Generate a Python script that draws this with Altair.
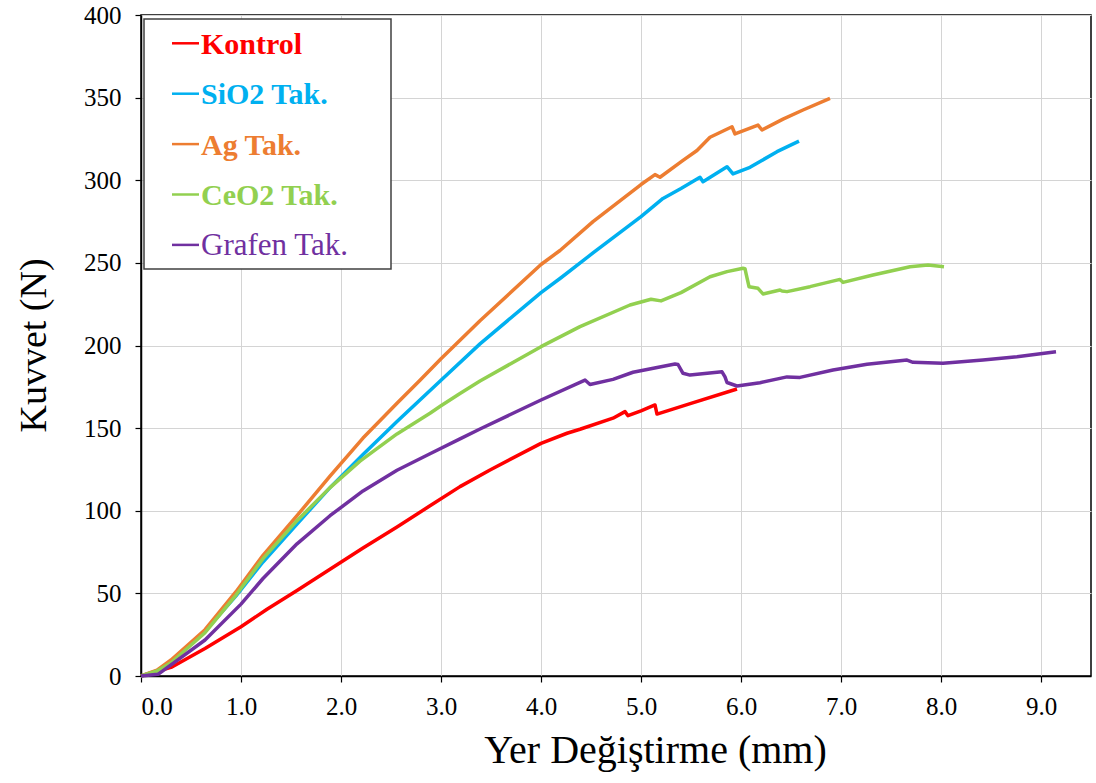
import altair as alt
import pandas as pd

# ---- data ----
series_names = ["Kontrol", "SiO2 Tak.", "Ag Tak.", "CeO2 Tak.", "Grafen Tak."]
series_colors = ["#FF0000", "#00B0F0", "#ED7D31", "#92D050", "#7030A0"]
series_bold = [True, True, True, True, False]

kontrol_x = [0, 0.07, 0.3, 0.64, 1.0, 1.26, 1.56, 1.89, 2.22, 2.56, 2.89, 3.19, 3.49, 4.0,
             4.26, 4.39, 4.72, 4.84, 4.87, 5.0, 5.14, 5.16, 5.5, 5.96]
kontrol_y = [0, 1.2, 5.2, 16.7, 29.8, 40.4, 51.8, 64.6, 77.5, 90.2, 103, 114.6, 124.7, 140.8,
             146.9, 149.3, 156, 160, 157.5, 160.5, 164, 158.5, 165, 173.7]

sio2_x = [0, 0.16, 0.3, 0.64, 0.95, 1.22, 1.56, 1.89, 2.22, 2.56, 3.0, 3.39, 4.0, 4.2,
          4.52, 5.0, 5.22, 5.4, 5.59, 5.62, 5.86, 5.92, 6.09, 6.36, 6.58]
sio2_y = [0, 3, 9, 27, 48.5, 69, 92, 114, 134, 154, 179, 201, 232, 241,
          256, 278, 289, 295, 301.8, 299.1, 308.2, 303.8, 307.8, 317.3, 323.7]

ag_x = [0, 0.16, 0.3, 0.64, 0.95, 1.22, 1.56, 1.89, 2.22, 2.56, 2.79, 3.0, 3.39, 4.0,
        4.19, 4.52, 5.0, 5.14, 5.19, 5.42, 5.56, 5.69, 5.91, 5.94, 6.17, 6.21, 6.42, 6.62, 6.89]
ag_y = [0, 3.5, 9.7, 28, 51, 73, 97, 121, 144, 165, 179, 192, 215, 249,
        257.5, 275, 297.4, 303.4, 301.8, 312, 318, 326, 332.4, 328, 333.4, 330.4, 337, 342.5, 349.6]

ceo2_x = [0, 0.16, 0.3, 0.64, 0.95, 1.22, 1.56, 1.89, 2.19, 2.39, 2.56, 2.89, 3.0, 3.19, 3.39,
          4.0, 4.39, 4.89, 5.1, 5.2, 5.4, 5.69, 5.86, 6.02, 6.04, 6.05, 6.08, 6.17, 6.22, 6.39,
          6.41, 6.46, 6.69, 6.99, 7.02, 7.32, 7.69, 7.87, 8.03]
ceo2_y = [0, 3, 8, 26.2, 49, 71, 94, 114, 130, 139, 146.5, 159, 163.5, 171, 178.5,
          199.3, 211.4, 224.5, 228, 227, 232, 241.6, 244.7, 246.7, 246.5, 243.7, 235.6, 234.6,
          231.2, 233.6, 233, 232.6, 235.6, 240, 238.2, 242.7, 247.7, 248.7, 247.7]

grafen_x = [0, 0.17, 0.3, 0.64, 1.0, 1.22, 1.56, 1.89, 2.22, 2.56, 2.89, 3.19, 3.39, 4.0,
            4.44, 4.49, 4.72, 4.92, 5.34, 5.37, 5.42, 5.49, 5.81, 5.84, 5.86, 5.96, 6.19, 6.46,
            6.59, 6.92, 7.26, 7.66, 7.72, 8.02, 8.42, 8.76, 9.15]
grafen_y = [0, 1, 6.7, 21.8, 43.5, 59, 80, 97, 112, 124.5, 134.5, 143.5, 149.5, 167,
            179.1, 176.4, 179.5, 183.8, 188.8, 188.5, 183.2, 182.1, 184.1, 181, 177.6, 175.5,
            177.5, 181, 180.7, 185.2, 188.6, 191.2, 189.8, 189.2, 191.2, 193.2, 196.2]

x_ticks = [0, 1, 2, 3, 4, 5, 6, 7, 8, 9]
y_ticks = [0, 50, 100, 150, 200, 250, 300, 350, 400]

# ---- build tables ----
all_x = [kontrol_x, sio2_x, ag_x, ceo2_x, grafen_x]
all_y = [kontrol_y, sio2_y, ag_y, ceo2_y, grafen_y]
rows = []
for name, xs, ys in zip(series_names, all_x, all_y):
    for i, (xv, yv) in enumerate(zip(xs, ys)):
        rows.append({"series": name, "x": xv, "y": yv, "i": i})
df = pd.DataFrame(rows)

leg = pd.DataFrame({
    "name": series_names,
    "color": series_colors,
    "bold": series_bold,
    "ly": [28.3 + 50.4 * k for k in range(len(series_names))],
})
leg["ty"] = leg["ly"] + 10.5

FONT = "Liberation Serif"

lines = alt.Chart(df).mark_line(strokeWidth=3.5, strokeJoin="round").encode(
    x=alt.X("x:Q", scale=alt.Scale(domain=[0, 9.5], nice=False),
            axis=alt.Axis(values=x_ticks, format=".1f", title="Yer Değiştirme (mm)",
                          titleX=514, titleY=86, titleBaseline="alphabetic",
                          titleFontSize=40, labelPadding=12)),
    y=alt.Y("y:Q", scale=alt.Scale(domain=[0, 400], nice=False),
            axis=alt.Axis(values=y_ticks, title="Kuvvet (N)", titleAngle=270,
                          titleX=-96, titleY=330, titleBaseline="alphabetic",
                          titleFontSize=38, labelPadding=14)),
    color=alt.Color("series:N", scale=alt.Scale(domain=series_names, range=series_colors),
                    legend=None),
    detail="series:N",
    order=alt.Order("i:Q"),
)

box = alt.Chart(pd.DataFrame({"a": [0]})).mark_rect(
    fill="white", stroke="#404040", strokeWidth=1.5
).encode(x=alt.value(3), x2=alt.value(250), y=alt.value(4), y2=alt.value(254))

leg_lines = alt.Chart(leg).mark_rule(strokeWidth=2.5).encode(
    x=alt.value(31), x2=alt.value(58),
    y=alt.Y("ly:Q", scale=None),
    color=alt.Color("color:N", scale=None),
)

leg_bold = alt.Chart(leg).transform_filter("datum.bold").mark_text(
    font=FONT, fontSize=30, fontWeight="bold", align="left", baseline="alphabetic"
).encode(
    x=alt.value(60),
    y=alt.Y("ty:Q", scale=None),
    text="name:N",
    color=alt.Color("color:N", scale=None),
)

leg_norm = alt.Chart(leg).transform_filter("!datum.bold").mark_text(
    font=FONT, fontSize=31, fontWeight="normal", align="left", baseline="alphabetic"
).encode(
    x=alt.value(60),
    y=alt.Y("ty:Q", scale=None),
    text="name:N",
    color=alt.Color("color:N", scale=None),
)

chart = alt.layer(lines, box, leg_lines, leg_bold, leg_norm).properties(
    width=950, height=661,
    autosize=alt.AutoSizeParams(type="none"),
    padding={"left": 141, "top": 15, "right": 5, "bottom": 107},
    background="white",
).configure(
    font=FONT,
    style={"guide-label": {"font": FONT, "fontSize": 25, "fill": "black"},
           "guide-title": {"font": FONT}},
).configure_view(
    stroke="black", strokeWidth=1.5
).configure_axis(
    domainColor="black", domainWidth=1.5, tickColor="black", tickSize=6, tickWidth=1.2,
    gridColor="#d4d4d4", gridWidth=1,
    labelFont=FONT, labelFontSize=25, labelColor="black",
    titleFont=FONT, titleFontWeight="normal", titleColor="black",
)

chart.save("out.html", embed_options={"renderer": "svg", "actions": False})
